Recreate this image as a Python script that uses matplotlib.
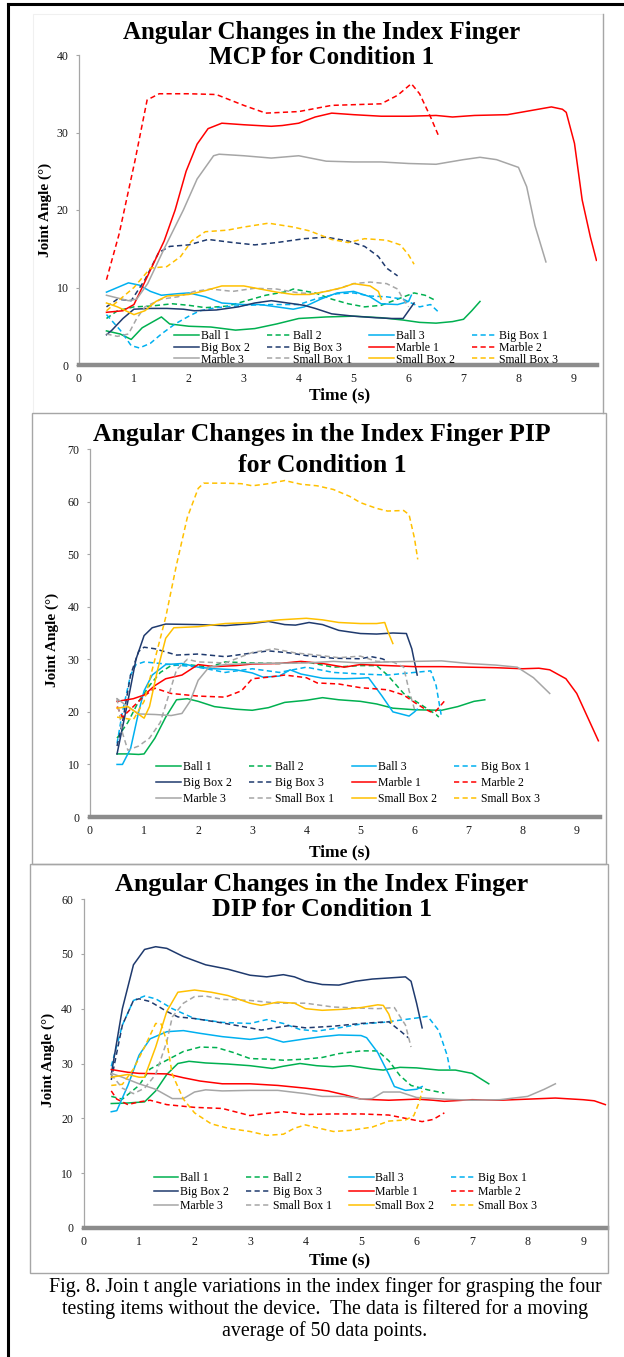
import matplotlib
matplotlib.use('Agg')
import matplotlib.pyplot as plt
from matplotlib.lines import Line2D
from matplotlib.patches import Rectangle

W, H = 624, 1357
SERIF = ['Liberation Serif', 'DejaVu Serif']
plt.rcParams['font.family'] = SERIF

labels = ['Ball 1', 'Ball 2', 'Ball 3', 'Big Box 1', 'Big Box 2', 'Big Box 3',
          'Marble 1', 'Marble 2', 'Marble 3', 'Small Box 1', 'Small Box 2', 'Small Box 3']
colors = ['#00B050', '#00B050', '#00B0F0', '#00B0F0', '#1F3A6E', '#1F3A6E',
          '#FF0000', '#FF0000', '#A6A6A6', '#A6A6A6', '#FFC000', '#FFC000']
dashed = [False, True] * 6

# ---- MCP (panel 1): (time s, angle deg) ----
mcp_ball1 = ([0.5, 0.75, 0.95, 1.15, 1.4, 1.5, 1.65, 2.0, 2.4, 2.85, 3.2, 3.6, 4.0, 4.5, 5.0, 5.5, 5.9, 6.2, 6.5, 6.8, 7.0, 7.15, 7.3],
             [4.4, 4.0, 3.3, 4.8, 5.8, 6.2, 5.3, 5.0, 4.9, 4.5, 4.7, 5.3, 6.0, 6.2, 6.3, 6.1, 5.8, 5.5, 5.4, 5.6, 5.9, 7.0, 8.2])
mcp_ball2 = ([0.5, 0.7, 1.0, 1.3, 1.7, 2.0, 2.3, 2.7, 3.0, 3.4, 3.8, 3.9, 4.3, 4.6, 4.9, 5.2, 5.5, 5.8, 6.1, 6.3, 6.5],
             [6.0, 7.0, 7.5, 7.6, 7.9, 7.7, 7.4, 7.6, 8.2, 9.0, 9.5, 9.8, 9.3, 8.5, 7.9, 7.5, 7.7, 8.5, 9.3, 9.0, 8.3])
mcp_ball3 = ([0.5, 0.7, 0.9, 1.1, 1.3, 1.5, 1.8, 2.0, 2.3, 2.6, 3.0, 3.3, 3.6, 3.9, 4.1, 4.4, 4.7, 5.0, 5.3, 5.5, 5.8, 6.0, 6.05],
             [9.4, 10.0, 10.6, 10.3, 9.5, 9.0, 9.2, 9.3, 8.8, 8.0, 7.8, 7.8, 7.5, 7.2, 7.5, 8.5, 9.3, 9.5, 8.8, 7.9, 7.8, 8.2, 9.0])
mcp_bigbox1 = ([0.5, 0.75, 0.95, 1.1, 1.3, 1.5, 1.75, 2.0, 2.2, 2.5, 3.0, 3.5, 4.0, 4.3, 4.7, 5.0, 5.3, 5.6, 5.9, 6.2, 6.4, 6.55],
               [6.5, 4.5, 2.5, 2.2, 2.8, 4.0, 5.3, 6.3, 7.0, 7.4, 7.7, 7.8, 7.8, 8.5, 9.2, 9.3, 8.9, 8.8, 8.5, 7.5, 7.8, 6.8])
mcp_bigbox2 = ([0.5, 0.6, 0.8, 1.0, 1.3, 1.6, 1.9, 2.1, 2.5, 2.9, 3.2, 3.5, 3.8, 4.1, 4.3, 4.6, 5.0, 5.4, 5.7, 5.9, 6.0, 6.1],
               [3.9, 4.5, 6.0, 7.2, 7.3, 7.3, 7.2, 7.0, 7.1, 7.5, 8.0, 8.3, 8.0, 7.7, 7.3, 6.6, 6.3, 6.1, 6.0, 6.0, 7.0, 8.0])
mcp_bigbox3 = ([0.5, 0.7, 0.95, 1.2, 1.45, 1.65, 2.0, 2.35, 2.8, 3.2, 3.6, 4.1, 4.5, 4.9, 5.2, 5.45, 5.6, 5.8],
               [7.5, 8.5, 8.3, 11.0, 14.5, 15.3, 15.5, 16.2, 15.8, 15.5, 15.8, 16.3, 16.5, 16.0, 15.3, 14.0, 12.5, 11.5])
mcp_marble1 = ([0.5, 0.8, 1.0, 1.15, 1.35, 1.55, 1.75, 1.95, 2.15, 2.35, 2.6, 3.0, 3.5, 3.7, 4.0, 4.3, 4.6, 5.0, 5.5, 6.0, 6.5, 6.8, 7.2, 7.8, 8.2, 8.6, 8.8, 8.87, 9.02, 9.16, 9.31, 9.42],
               [6.8, 7.0, 7.8, 10.0, 13.0, 16.0, 20.0, 25.0, 28.5, 30.5, 31.2, 31.0, 30.8, 30.9, 31.2, 32.0, 32.5, 32.3, 32.1, 32.1, 32.2, 32.0, 32.2, 32.3, 32.8, 33.3, 33.0, 32.6, 28.6, 21.3, 16.5, 13.5])
mcp_marble2 = ([0.5, 0.73, 1.02, 1.24, 1.46, 2.0, 2.5, 3.0, 3.4, 4.0, 4.6, 5.5, 5.8, 6.05, 6.2, 6.4, 6.55],
               [11.0, 16.9, 26.4, 34.2, 35.0, 35.0, 34.9, 33.5, 32.5, 32.7, 33.5, 33.7, 34.8, 36.3, 35.0, 32.0, 29.5])
mcp_marble3 = ([0.5, 0.9, 1.05, 1.25, 1.55, 1.9, 2.15, 2.45, 2.55, 3.0, 3.5, 4.0, 4.5, 5.0, 5.5, 6.0, 6.5, 7.0, 7.3, 7.6, 8.0, 8.15, 8.3, 8.5],
               [9.0, 8.3, 8.5, 10.5, 15.0, 20.0, 24.0, 27.0, 27.2, 27.0, 26.7, 27.0, 26.3, 26.2, 26.2, 26.0, 25.9, 26.5, 26.8, 26.5, 25.5, 23.0, 18.0, 13.3])
mcp_smallbox1 = ([0.5, 0.7, 0.9, 1.05, 1.2, 1.5, 1.8, 2.1, 2.4, 2.8, 3.2, 3.6, 4.0, 4.3, 4.7, 5.0, 5.3, 5.6, 5.8, 5.9, 6.0],
                 [4.0, 3.7, 4.0, 6.0, 7.5, 8.5, 8.8, 9.5, 9.8, 9.5, 9.9, 9.8, 9.3, 9.2, 9.8, 10.5, 10.7, 10.5, 9.8, 8.5, 7.5])
mcp_smallbox2 = ([0.5, 0.7, 1.0, 1.2, 1.4, 1.6, 2.0, 2.3, 2.6, 3.0, 3.3, 3.6, 3.9, 4.2, 4.5, 4.8, 5.0, 5.3, 5.45, 5.5],
                 [8.0, 7.5, 6.5, 7.0, 8.2, 8.9, 9.1, 9.6, 10.2, 10.2, 9.8, 9.4, 9.1, 9.1, 9.5, 10.0, 10.5, 10.2, 9.5, 8.5])
mcp_smallbox3 = ([0.5, 0.75, 1.0, 1.3, 1.6, 1.85, 2.05, 2.3, 2.7, 3.0, 3.45, 3.9, 4.2, 4.6, 4.9, 5.2, 5.6, 5.85, 6.0, 6.1],
                 [7.0, 8.5, 10.0, 12.5, 12.7, 14.0, 16.0, 17.2, 17.4, 17.8, 18.3, 17.8, 17.3, 16.2, 15.8, 16.3, 16.1, 15.5, 14.2, 13.0])

# ---- PIP (panel 2) ----
pip_ball1 = ([0.5, 0.7, 0.9, 1.0, 1.2, 1.4, 1.6, 1.8, 2.0, 2.3, 2.7, 3.0, 3.3, 3.6, 4.0, 4.3, 4.6, 5.0, 5.3, 5.6, 6.0, 6.5, 6.8, 7.1, 7.3],
             [12.0, 12.0, 11.9, 12.0, 15.0, 19.0, 22.3, 22.5, 22.0, 21.0, 20.5, 20.3, 20.8, 21.8, 22.2, 22.7, 22.3, 22.0, 21.5, 20.7, 20.4, 20.3, 21.0, 22.0, 22.3])
pip_ball2 = ([0.5, 0.7, 0.9, 1.1, 1.3, 1.5, 1.8, 2.2, 2.5, 3.0, 3.5, 4.0, 4.5, 5.0, 5.3, 5.5, 5.8, 6.1, 6.4, 6.45],
             [15.0, 18.0, 22.0, 25.0, 27.5, 28.8, 29.0, 28.5, 29.5, 29.3, 29.2, 29.5, 28.5, 28.8, 28.8, 27.0, 23.5, 21.5, 19.5, 19.0])
pip_ball3 = ([0.5, 0.6, 0.75, 0.9, 1.0, 1.15, 1.4, 1.7, 2.0, 2.3, 2.7, 3.0, 3.2, 3.5, 3.7, 3.9, 4.3, 4.7, 5.0, 5.15, 5.4, 5.6, 5.9, 6.0, 6.05],
             [10.0, 10.0, 13.0, 20.0, 24.0, 27.0, 29.0, 29.2, 28.5, 28.2, 28.0, 27.4, 26.6, 26.8, 28.0, 27.2, 26.4, 26.3, 26.4, 26.5, 23.0, 20.0, 19.2, 20.0, 20.5])
pip_bigbox1 = ([0.5, 0.6, 0.75, 0.85, 1.0, 1.5, 2.0, 2.5, 3.0, 3.5, 4.0, 4.5, 5.0, 5.5, 6.0, 6.3, 6.4, 6.5],
               [14.0, 20.0, 27.0, 29.0, 29.5, 29.0, 28.5, 27.5, 28.2, 27.5, 28.5, 27.5, 27.2, 27.0, 27.5, 27.8, 25.0, 19.0])
pip_bigbox2 = ([0.5, 0.7, 0.85, 1.0, 1.15, 1.4, 2.0, 2.5, 3.0, 3.3, 3.6, 3.8, 4.05, 4.3, 4.6, 5.0, 5.3, 5.6, 5.85, 5.95, 6.05],
               [12.0, 22.0, 30.0, 34.5, 36.0, 36.7, 36.6, 36.4, 36.8, 37.2, 36.6, 36.5, 37.0, 36.6, 35.5, 34.9, 34.8, 35.0, 34.9, 32.0, 27.0])
pip_bigbox3 = ([0.5, 0.6, 0.75, 0.9, 1.0, 1.2, 1.6, 2.0, 2.5, 3.0, 3.3, 3.7, 4.0, 4.5, 5.0, 5.2, 5.4, 5.5],
               [13.5, 18.0, 27.0, 31.5, 32.3, 32.0, 30.8, 31.0, 30.5, 31.2, 31.6, 31.2, 30.7, 30.2, 30.1, 30.5, 30.1, 29.7])
pip_marble1 = ([0.5, 0.8, 1.0, 1.2, 1.4, 1.7, 2.0, 2.3, 2.7, 3.0, 3.5, 3.9, 4.3, 4.7, 5.0, 5.5, 6.0, 6.5, 7.0, 7.5, 8.0, 8.3, 8.5, 8.8, 9.0, 9.2, 9.4],
               [22.0, 22.5, 23.2, 25.0, 26.3, 27.0, 29.0, 28.6, 28.8, 29.1, 29.2, 29.6, 29.2, 28.5, 29.0, 28.8, 28.6, 28.6, 28.5, 28.4, 28.2, 28.3, 28.0, 26.3, 23.5, 19.0, 14.5])
pip_marble2 = ([0.5, 0.6, 0.8, 1.0, 1.2, 1.5, 2.0, 2.5, 2.8, 3.0, 3.3, 3.6, 4.0, 4.2, 4.6, 5.0, 5.5, 5.8, 6.0, 6.2, 6.3, 6.4, 6.55],
               [21.0, 19.0, 21.0, 23.0, 24.5, 23.5, 23.0, 22.8, 24.0, 26.3, 26.6, 27.0, 26.5, 25.5, 25.3, 24.6, 24.2, 23.2, 21.8, 20.5, 20.0, 20.2, 22.0])
pip_marble3 = ([0.5, 0.7, 0.9, 1.2, 1.5, 1.7, 1.85, 2.0, 2.2, 2.5, 3.0, 4.0, 4.5, 5.0, 5.5, 6.0, 6.5, 7.0, 7.5, 7.9, 8.2, 8.5],
               [22.5, 21.0, 19.6, 19.5, 19.3, 19.7, 22.0, 26.0, 28.5, 29.0, 29.2, 29.3, 29.6, 29.3, 29.5, 29.6, 29.7, 29.2, 28.9, 28.5, 26.5, 23.5])
pip_smallbox1 = ([0.5, 0.6, 0.7, 0.9, 1.1, 1.3, 1.45, 1.6, 1.8, 2.0, 2.5, 3.0, 3.4, 3.8, 4.2, 4.6, 5.0, 5.3, 5.6, 5.8, 5.9, 6.0],
                 [22.6, 16.0, 12.7, 13.5, 15.0, 18.0, 23.0, 28.0, 30.0, 29.5, 29.3, 31.3, 32.0, 31.2, 30.8, 30.3, 30.6, 29.6, 29.5, 28.5, 24.0, 20.5])
pip_smallbox2 = ([0.5, 0.7, 1.0, 1.1, 1.25, 1.4, 1.55, 2.0, 2.5, 3.0, 3.5, 4.0, 4.3, 4.6, 5.0, 5.3, 5.45, 5.5, 5.6],
                 [20.7, 21.0, 18.8, 21.0, 28.0, 34.0, 36.0, 36.2, 36.8, 37.0, 37.5, 37.8, 37.5, 37.0, 36.8, 36.8, 37.0, 35.5, 33.0])
pip_smallbox3 = ([0.5, 0.8, 1.0, 1.2, 1.4, 1.6, 1.8, 2.0, 2.1, 2.5, 2.8, 3.0, 3.3, 3.6, 3.9, 4.2, 4.5, 4.8, 5.0, 5.3, 5.5, 5.8, 5.9, 6.0, 6.06],
                 [19.0, 18.5, 22.0, 30.0, 38.0, 48.0, 57.0, 62.5, 63.5, 63.5, 63.4, 63.0, 63.4, 64.0, 63.3, 63.0, 62.3, 61.0, 59.8, 58.7, 58.2, 58.3, 57.5, 53.0, 49.0])

# ---- DIP (panel 3) ----
dip_ball1 = ([0.5, 0.8, 1.1, 1.3, 1.5, 1.7, 1.9, 2.2, 2.6, 3.0, 3.4, 3.6, 3.9, 4.2, 4.5, 4.8, 5.2, 5.4, 5.7, 6.0, 6.4, 6.7, 7.0, 7.3],
             [22.7, 22.8, 23.0, 25.0, 28.0, 30.0, 30.4, 30.1, 29.9, 29.6, 29.1, 29.5, 30.0, 29.6, 29.4, 29.6, 29.0, 28.8, 29.3, 29.2, 28.8, 28.8, 28.2, 26.3])
dip_ball2 = ([0.5, 0.7, 1.0, 1.2, 1.5, 1.8, 2.1, 2.4, 2.7, 3.0, 3.3, 3.6, 4.0, 4.3, 4.6, 5.0, 5.3, 5.5, 5.7, 5.9, 6.2, 6.5],
             [24.0, 23.5, 26.0, 29.0, 30.6, 32.2, 33.0, 32.9, 32.0, 30.9, 30.8, 30.6, 30.8, 31.1, 31.8, 32.3, 32.3, 30.5, 27.8, 26.0, 25.2, 24.6])
dip_ball3 = ([0.5, 0.6, 0.8, 1.0, 1.2, 1.5, 1.8, 2.1, 2.5, 3.0, 3.3, 3.6, 4.0, 4.3, 4.6, 5.0, 5.1, 5.3, 5.5, 5.6, 5.8, 6.0, 6.1],
             [21.2, 21.4, 26.0, 31.5, 34.5, 35.8, 36.0, 35.5, 34.9, 34.4, 34.8, 33.9, 34.5, 34.9, 35.2, 35.1, 34.7, 32.0, 28.0, 25.8, 25.1, 25.3, 25.8])
dip_bigbox1 = ([0.5, 0.7, 0.9, 1.1, 1.3, 1.6, 2.0, 2.5, 3.0, 3.3, 3.6, 3.9, 4.2, 4.6, 5.0, 5.4, 5.7, 6.0, 6.2, 6.4, 6.55, 6.6],
               [29.5, 37.0, 41.5, 42.3, 41.8, 40.0, 38.2, 37.5, 37.3, 38.0, 37.3, 36.2, 35.9, 36.5, 37.2, 37.5, 37.9, 38.3, 38.6, 36.0, 31.5, 29.0])
dip_bigbox2 = ([0.5, 0.7, 0.9, 1.1, 1.3, 1.5, 1.8, 2.2, 2.6, 3.0, 3.3, 3.6, 3.8, 4.0, 4.3, 4.6, 4.9, 5.2, 5.5, 5.8, 5.9, 6.0, 6.1],
               [28.0, 40.0, 48.0, 50.8, 51.3, 51.0, 49.5, 48.0, 47.2, 46.1, 45.8, 46.2, 45.8, 45.0, 44.4, 44.3, 45.0, 45.4, 45.6, 45.8, 45.0, 41.0, 36.5])
dip_bigbox3 = ([0.5, 0.7, 0.9, 1.0, 1.2, 1.5, 1.7, 2.0, 2.5, 3.0, 3.2, 3.5, 3.7, 4.0, 4.5, 5.0, 5.3, 5.5, 5.7, 5.85],
               [27.0, 37.0, 41.5, 41.8, 41.3, 39.5, 38.5, 38.2, 37.4, 36.5, 36.1, 36.6, 36.9, 36.5, 36.8, 37.3, 37.5, 37.6, 36.0, 34.7])
dip_marble1 = ([0.5, 0.8, 1.0, 1.5, 1.8, 2.1, 2.5, 3.0, 3.5, 4.0, 4.4, 4.7, 5.0, 5.5, 6.0, 6.3, 6.5, 7.0, 7.5, 8.0, 8.5, 9.0, 9.2, 9.4],
               [28.9, 28.4, 28.2, 28.1, 27.4, 26.8, 26.3, 26.3, 26.0, 25.5, 25.0, 24.3, 23.5, 23.3, 23.5, 23.3, 23.1, 23.4, 23.3, 23.5, 23.7, 23.4, 23.2, 22.5])
dip_marble2 = ([0.5, 0.6, 0.8, 1.0, 1.2, 1.5, 2.0, 2.5, 3.0, 3.3, 3.6, 4.0, 4.5, 5.0, 5.5, 5.8, 6.1, 6.3, 6.5],
               [25.0, 23.5, 22.5, 23.0, 23.3, 22.5, 22.0, 21.8, 20.5, 20.9, 21.2, 20.7, 20.8, 20.8, 20.6, 20.0, 19.4, 19.8, 21.0])
dip_marble3 = ([0.5, 0.7, 1.0, 1.3, 1.6, 1.8, 2.0, 2.2, 2.5, 3.0, 3.5, 4.0, 4.3, 4.7, 5.0, 5.2, 5.4, 5.7, 6.0, 6.5, 7.0, 7.5, 8.0, 8.3, 8.5],
               [28.2, 27.5, 26.3, 25.3, 23.6, 23.6, 24.8, 25.2, 25.0, 25.1, 25.1, 24.5, 24.0, 24.0, 23.5, 23.6, 24.8, 24.8, 23.8, 23.5, 23.3, 23.4, 24.0, 25.3, 26.3])
dip_smallbox1 = ([0.5, 0.7, 0.9, 1.1, 1.3, 1.5, 1.6, 1.8, 2.0, 2.2, 2.5, 3.0, 3.5, 4.0, 4.5, 5.0, 5.3, 5.6, 5.8, 5.9],
                 [28.0, 25.5, 24.5, 25.5, 28.0, 34.0, 38.5, 41.0, 42.2, 42.3, 41.7, 41.5, 41.0, 41.0, 40.3, 40.1, 40.0, 40.2, 37.0, 33.0])
dip_smallbox2 = ([0.5, 0.8, 1.0, 1.1, 1.3, 1.5, 1.7, 2.0, 2.3, 2.6, 3.0, 3.2, 3.5, 3.8, 4.0, 4.3, 4.7, 5.0, 5.3, 5.4, 5.5, 5.55],
                 [27.5, 28.0, 27.5, 27.5, 33.0, 39.5, 43.0, 43.4, 43.0, 42.4, 41.0, 40.6, 41.2, 41.0, 40.0, 39.7, 39.9, 40.2, 40.7, 40.6, 39.0, 37.5])
dip_smallbox3 = ([0.5, 0.7, 0.9, 1.1, 1.3, 1.4, 1.5, 1.6, 1.8, 2.0, 2.3, 2.6, 3.0, 3.3, 3.6, 3.8, 4.0, 4.2, 4.5, 4.8, 5.2, 5.5, 5.8, 5.95, 6.05, 6.1],
                 [26.0, 26.2, 29.0, 33.0, 37.3, 37.2, 34.0, 28.0, 23.5, 21.0, 19.0, 18.2, 17.6, 16.9, 17.1, 18.2, 18.8, 18.3, 17.6, 17.8, 18.4, 19.5, 19.7, 20.5, 23.0, 25.0])

mcp_series = [mcp_ball1, mcp_ball2, mcp_ball3, mcp_bigbox1, mcp_bigbox2, mcp_bigbox3,
              mcp_marble1, mcp_marble2, mcp_marble3, mcp_smallbox1, mcp_smallbox2, mcp_smallbox3]
pip_series = [pip_ball1, pip_ball2, pip_ball3, pip_bigbox1, pip_bigbox2, pip_bigbox3,
              pip_marble1, pip_marble2, pip_marble3, pip_smallbox1, pip_smallbox2, pip_smallbox3]
dip_series = [dip_ball1, dip_ball2, dip_ball3, dip_bigbox1, dip_bigbox2, dip_bigbox3,
              dip_marble1, dip_marble2, dip_marble3, dip_smallbox1, dip_smallbox2, dip_smallbox3]


def fx(x):
    return x / W


def fy(y):
    return 1 - y / H


fig = plt.figure(figsize=(W / 100, H / 100), dpi=100)

# outer black border (top and left)
fig.add_artist(Line2D([fx(8), fx(624)], [fy(4), fy(4)], color='black', lw=2.2))
fig.add_artist(Line2D([fx(8), fx(8)], [fy(4), fy(1357)], color='black', lw=2.2))

# chart frames
fig.add_artist(Rectangle((fx(33), fy(413)), fx(603) - fx(33), fy(14) - fy(413),
                         fill=False, ec='#F0F0F0', lw=0.8))
fig.add_artist(Line2D([fx(603), fx(603)], [fy(14), fy(413)], color='#A6A6A6', lw=1.0))
fig.add_artist(Rectangle((fx(32), fy(864)), fx(606) - fx(32), fy(413) - fy(864),
                         fill=False, ec='#A6A6A6', lw=1.0))
fig.add_artist(Rectangle((fx(30), fy(1273)), fx(608) - fx(30), fy(864) - fy(1273),
                         fill=False, ec='#A6A6A6', lw=1.0))


def draw_panel(box, series, ymax, title_lines, title_size, title_y, xlabel_y, ylabel_xy, leg_center, leg_spacing):
    left, right, top, bottom = box
    ax = fig.add_axes([fx(left), fy(bottom), fx(right) - fx(left), fy(top) - fy(bottom)])
    handles = []
    for (t, y), lab, c, d in zip(series, labels, colors, dashed):
        ln, = ax.plot(t, y, color=c, lw=1.1, label=lab)
        if d:
            ln.set_dashes((3.4, 2.2))
        handles.append(ln)
    ax.set_xlim(0, 9.43)
    ax.set_ylim(0, ymax)
    ax.set_xticks(range(10))
    ax.set_yticks(range(0, ymax + 1, 10))
    for s in ['top', 'right']:
        ax.spines[s].set_visible(False)
    ax.spines['left'].set_color('#A6A6A6')
    ax.spines['left'].set_linewidth(0.9)
    ax.spines['bottom'].set_color('#8C8C8C')
    ax.spines['bottom'].set_linewidth(3.2)
    ax.tick_params(axis='x', length=0, pad=6, labelsize=8.6, labelcolor='#1A1A1A')
    ax.tick_params(axis='y', length=2.5, width=0.8, color='#A6A6A6', pad=5, labelsize=8.6, labelcolor='#1A1A1A')
    # Excel fills the legend row by row
    order = [0, 4, 8, 1, 5, 9, 2, 6, 10, 3, 7, 11]
    ax.legend([handles[i] for i in order], [labels[i] for i in order], ncol=4, frameon=False,
              loc='center', bbox_to_anchor=leg_center, fontsize=8.5,
              handlelength=2.1, handletextpad=0.15, columnspacing=1.45,
              labelspacing=leg_spacing, borderpad=0)
    for txt, ty in zip(title_lines, title_y):
        fig.text(fx(322), fy(ty), txt, ha='center', va='center', fontsize=title_size,
                 fontweight='bold', family=SERIF)
    fig.text(fx(340), fy(xlabel_y), 'Time (s)', ha='center', va='center', fontsize=12.5,
             fontweight='bold', family=SERIF)
    fig.text(fx(ylabel_xy[0]), fy(ylabel_xy[1]), 'Joint Angle (°)', ha='center', va='center',
             rotation=90, fontsize=11, fontweight='bold', family=SERIF)
    return ax


draw_panel((79, 597, 55, 365), mcp_series, 40,
           ['Angular Changes in the Index Finger', 'MCP for Condition 1'], 18, [32, 58],
           395, (45, 210), (0.554, 0.055), -0.03)
draw_panel((90, 600, 449, 817), pip_series, 70,
           ['Angular Changes in the Index Finger PIP', 'for Condition 1'], 18.5, [435, 465],
           852, (52, 640), (0.506, 0.092), 0.31)
draw_panel((83.5, 607, 899, 1228), dip_series, 60,
           ['Angular Changes in the Index Finger', 'DIP for Condition 1'], 18.7, [884, 910],
           1260, (48, 1060), (0.50, 0.109), 0.14)

caption = ['Fig. 8. Join t angle variations in the index finger for grasping the four',
           'testing items without the device.  The data is filtered for a moving',
           'average of 50 data points.']
for line, cy in zip(caption, [1287, 1309, 1331]):
    fig.text(fx(325), fy(cy), line, ha='center', va='center', fontsize=14.3, family=SERIF)

fig.savefig('out.png', dpi=100, facecolor='white')
